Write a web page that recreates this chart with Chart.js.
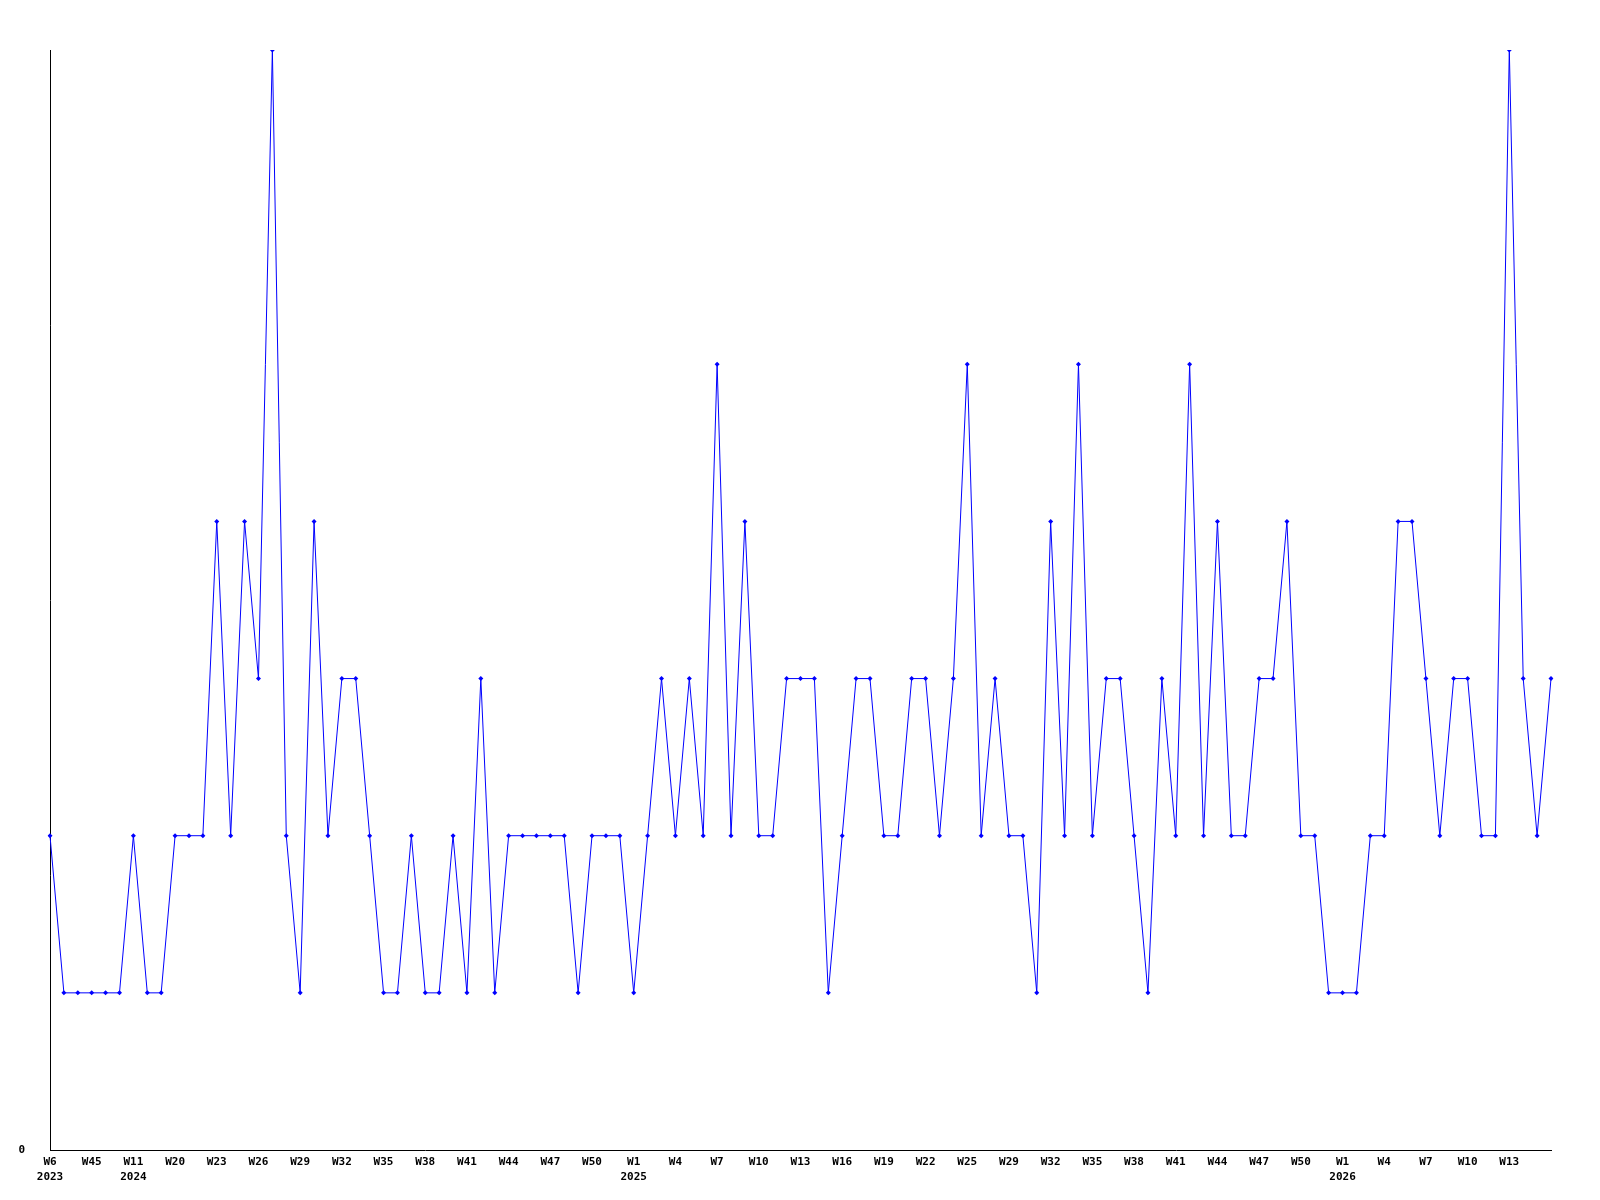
<!DOCTYPE html>
<html>
<head>
<meta charset="utf-8">
<script src="https://cdn.jsdelivr.net/npm/chart.js@4.4.1/dist/chart.umd.min.js"></script>
<style>
body{margin:0;background:#fff}
canvas{display:block}
</style>
</head>
<body>
<canvas id="weekChart" width="1600" height="1200"></canvas>
<script>

// weekly counts, one per point
const counts=[2,1,1,1,1,1,2,1,1,2,
2,2,4,2,4,3,7,2,1,4,
2,3,3,2,1,1,2,1,1,2,
1,3,1,2,2,2,2,2,1,2,
2,2,1,2,3,2,3,2,5,2,
4,2,2,3,3,3,1,2,3,3,
2,2,3,3,2,3,5,2,3,2,
2,1,4,2,5,2,3,3,2,1,
3,2,5,2,4,2,2,3,3,4,
2,2,1,1,1,2,2,4,4,3,
2,3,3,2,2,7,3,2,3]

// every third point gets a week label
const weekTicks=['W6','W45','W11','W20','W23','W26','W29','W32','W35','W38','W41','W44','W47','W50',
'W1','W4','W7','W10','W13','W16','W19','W22','W25','W29','W32','W35','W38','W41','W44','W47','W50',
'W1','W4','W7','W10','W13']

// year shown under these week ticks
const yearTicks={0:'2023',2:'2024',14:'2025',31:'2026'}

const points=counts.map((c,i)=>i)

const tickFont={family:'"DejaVu Sans Mono", monospace',size:11,weight:'bold',lineHeight:'15px'}

new Chart(
document.getElementById("weekChart"),
{
type:'line',
data:{
labels:points,
datasets:[{
data:counts,
borderColor:'#0000ff',
backgroundColor:'#0000ff',
borderWidth:1,
tension:0,
pointStyle:'rectRot',
pointRadius:2.5,
pointBorderWidth:0,
pointHoverRadius:2.5
}]
},
options:{
responsive:false,
animation:false,
events:[],
layout:{padding:{top:50,right:49,left:0,bottom:0}},
plugins:{legend:{display:false},tooltip:{enabled:false}},
scales:{
x:{
type:'category',
offset:false,
grid:{display:false,drawTicks:false},
border:{display:true,color:'#000',width:1},
ticks:{
autoSkip:false,
maxRotation:0,
minRotation:0,
padding:5,
color:'#000',
font:tickFont,
callback:(v,i)=>{
if(i%3!==0)return ''
const k=i/3
return yearTicks[k]?[weekTicks[k],yearTicks[k]]:weekTicks[k]
}
},
afterFit:s=>{s.height=50}
},
y:{
min:0,
max:7,
grid:{display:false,drawTicks:false},
border:{display:true,color:'#000',width:1},
ticks:{
stepSize:7,
padding:25,
color:'#000',
font:tickFont,
callback:v=>v===0?'0':''
},
afterFit:s=>{s.width=50}
}
}
}
})

</script>
</body>
</html>
